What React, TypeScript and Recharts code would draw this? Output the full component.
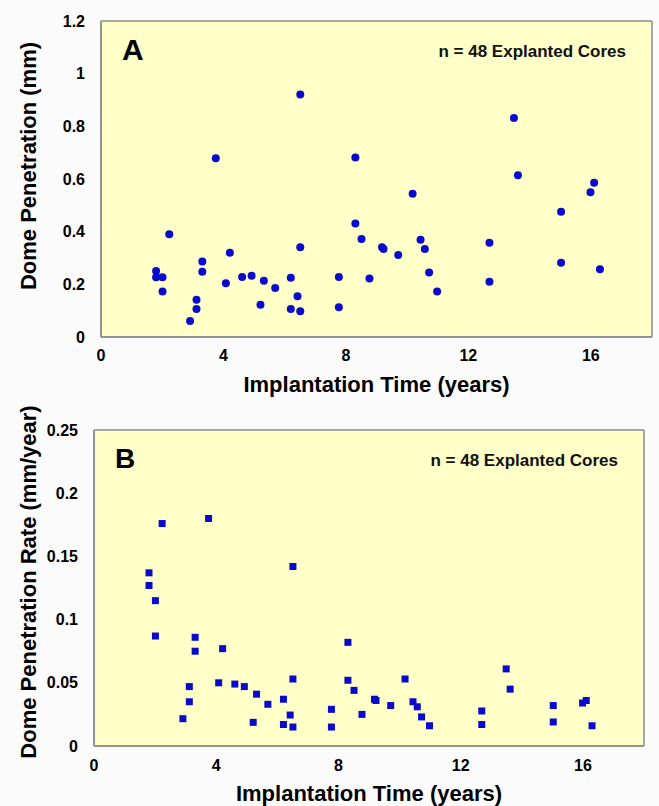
import React from 'react';
import { ScatterChart, Scatter, XAxis, YAxis, CartesianGrid } from 'recharts';

// values (same 48 cores, some points overlap)
const implantYears = [1.8, 1.8, 2.01, 2.01, 2.23, 2.91, 3.12, 3.12, 3.31, 3.31, 3.75, 4.08, 4.21, 4.61, 4.92, 5.21, 5.32, 5.69, 6.2, 6.2, 6.42, 6.51, 6.51, 6.51, 7.77, 7.77, 8.31, 8.31, 8.51, 8.77, 9.18, 9.23, 9.71, 10.18, 10.44, 10.58, 10.72, 10.98, 12.69, 12.69, 13.49, 13.62, 15.03, 15.03, 15.99, 16.11, 16.3];
const penetrationMm = [0.251, 0.227, 0.227, 0.173, 0.39, 0.061, 0.141, 0.106, 0.287, 0.248, 0.679, 0.204, 0.32, 0.228, 0.233, 0.122, 0.214, 0.186, 0.225, 0.106, 0.155, 0.921, 0.341, 0.098, 0.228, 0.113, 0.682, 0.431, 0.372, 0.222, 0.341, 0.334, 0.311, 0.544, 0.369, 0.334, 0.245, 0.173, 0.358, 0.21, 0.832, 0.614, 0.476, 0.282, 0.55, 0.586, 0.257];
const rateMmPerYear = [0.137, 0.127, 0.115, 0.087, 0.176, 0.0216, 0.047, 0.035, 0.086, 0.075, 0.18, 0.05, 0.077, 0.049, 0.047, 0.0187, 0.041, 0.033, 0.037, 0.017, 0.0245, 0.142, 0.053, 0.015, 0.029, 0.015, 0.082, 0.052, 0.044, 0.025, 0.037, 0.036, 0.032, 0.053, 0.035, 0.031, 0.023, 0.016, 0.0277, 0.017, 0.061, 0.045, 0.032, 0.019, 0.034, 0.036, 0.016];

const yearTicks = [0, 4, 8, 12, 16];
const penetrationTicks = [0, 0.2, 0.4, 0.6, 0.8, 1, 1.2];
const rateTicks = [0, 0.05, 0.1, 0.15, 0.2, 0.25];

const FONT = '"Liberation Sans", Arial, Helvetica, sans-serif';
const BLUE = '#0a0acc';
const FRAME = '#8c8c8c';
const PLOT_BG = '#ffffc8';

const dataA = implantYears.map((x, i) => ({ x, y: penetrationMm[i] }));
const dataB = implantYears.map((x, i) => ({ x, y: rateMmPerYear[i] }));

const tickStyle = { fill: '#000', fontSize: 16, fontWeight: 'bold', fontFamily: FONT };

const dot = (p: any) => <circle cx={p.cx} cy={p.cy} r={4} fill={BLUE} />;
const square = (p: any) => <rect x={p.cx - 3.5} y={p.cy - 3.5} width={7} height={7} fill={BLUE} />;

const cornerText = (letter: string, size: number, base: number) => (props: any) => {
  const vb = props.viewBox || {};
  return (
    <g fontFamily={FONT} fontWeight="bold">
      <text x={vb.x + 21} y={vb.y + base} fontSize={size} fill="#000">{letter}</text>
      <text x={vb.x + vb.width - 26} y={vb.y + 36} fontSize={17} fill="#111" textAnchor="end">
        n = 48 Explanted Cores
      </text>
    </g>
  );
};

const xTitle = (props: any) => {
  const vb = props.viewBox || {};
  return (
    <text x={vb.x + vb.width / 2} y={vb.y + 55} textAnchor="middle" fontSize={22} fontWeight="bold" fontFamily={FONT} fill="#000">
      Implantation Time (years)
    </text>
  );
};

const yTitle = (text: string, shift: number) => (props: any) => {
  const vb = props.viewBox || {};
  const cy = vb.y + vb.height / 2 + shift;
  return (
    <text x={36} y={cy} transform={`rotate(-90, 36, ${cy})`} textAnchor="middle" fontSize={22} fontWeight="bold" fontFamily={FONT} fill="#000">
      {text}
    </text>
  );
};

interface PanelProps {
  data: { x: number; y: number }[];
  height: number;
  margin: { top: number; right: number; bottom: number; left: number };
  yMax: number;
  yTicks: number[];
  title: string;
  titleShift: number;
  letter: string;
  letterSize: number;
  letterBase: number;
  shape: (p: any) => React.ReactElement;
  xTickGap: number;
}

const Panel = (p: PanelProps) => (
  <ScatterChart width={659} height={p.height} margin={p.margin}>
    <CartesianGrid fill={PLOT_BG} horizontal={false} vertical={false} stroke="none" />
    <XAxis
      type="number"
      dataKey="x"
      domain={[0, 18]}
      ticks={yearTicks}
      height={60}
      tickSize={0}
      tickMargin={p.xTickGap}
      tickLine={false}
      axisLine={{ stroke: FRAME, strokeWidth: 1.5 }}
      tick={tickStyle}
      label={xTitle}
    />
    <YAxis
      type="number"
      dataKey="y"
      domain={[0, p.yMax]}
      ticks={p.yTicks}
      width={60}
      tickSize={0}
      tickMargin={16}
      tickLine={false}
      axisLine={{ stroke: FRAME, strokeWidth: 1.5 }}
      tick={tickStyle}
      label={yTitle(p.title, p.titleShift)}
    />
    {/* inward tick marks on all four sides */}
    <XAxis xAxisId="bt" orientation="bottom" mirror type="number" domain={[0, 18]} ticks={yearTicks} allowDataOverflow tick={false} tickSize={6} tickLine={{ stroke: FRAME }} axisLine={{ stroke: FRAME, strokeWidth: 1.5 }} />
    <XAxis xAxisId="tp" orientation="top" mirror type="number" domain={[0, 18]} ticks={yearTicks} allowDataOverflow tick={false} tickSize={6} tickLine={{ stroke: FRAME }} axisLine={{ stroke: FRAME, strokeWidth: 1.5 }} label={cornerText(p.letter, p.letterSize, p.letterBase)} />
    <YAxis yAxisId="lt" orientation="left" mirror type="number" domain={[0, p.yMax]} ticks={p.yTicks} allowDataOverflow tick={false} tickSize={6} tickLine={{ stroke: FRAME }} axisLine={{ stroke: FRAME, strokeWidth: 1.5 }} />
    <YAxis yAxisId="rt" orientation="right" mirror type="number" domain={[0, p.yMax]} ticks={p.yTicks} allowDataOverflow tick={false} tickSize={6} tickLine={{ stroke: FRAME }} axisLine={{ stroke: FRAME, strokeWidth: 1.5 }} />
    <Scatter data={p.data} shape={p.shape} isAnimationActive={false} />
  </ScatterChart>
);

export default function App() {
  return (
    <div style={{ position: 'absolute', left: 0, top: 0, width: 659, height: 806, background: '#fbfbfb', overflow: 'hidden' }}>
      <Panel
        data={dataA}
        height={405}
        margin={{ top: 21, right: 7, bottom: 8, left: 41 }}
        yMax={1.2}
        yTicks={penetrationTicks}
        title="Dome Penetration (mm)"
        titleShift={-13}
        letter="A"
        letterSize={30}
        letterBase={39}
        shape={dot}
        xTickGap={13}
      />
      <Panel
        data={dataB}
        height={401}
        margin={{ top: 25, right: 15, bottom: 0, left: 34 }}
        yMax={0.25}
        yTicks={rateTicks}
        title="Dome Penetration Rate (mm/year)"
        titleShift={-6}
        letter="B"
        letterSize={28}
        letterBase={38}
        shape={square}
        xTickGap={14}
      />
    </div>
  );
}
